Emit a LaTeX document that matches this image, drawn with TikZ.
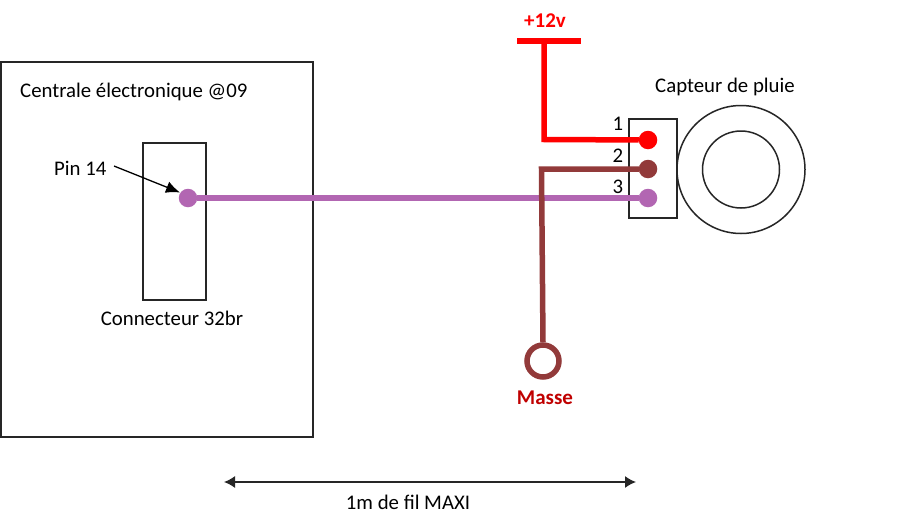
\documentclass[tikz,border=0pt]{standalone}
\usepackage{fontspec}
\setmainfont{Carlito}
\usetikzlibrary{arrows.meta}
\definecolor{wirered}{RGB}{255,0,0}
\definecolor{wirebrown}{RGB}{146,58,58}
\definecolor{wirepurple}{RGB}{178,102,178}
\definecolor{massered}{RGB}{192,0,0}
\tikzset{
  x=1pt,y=-1pt,
  outline/.style={draw=black!85,line width=1.5pt,fill=none,outer sep=0pt},
  lbl/.style={inner sep=0pt,font=\fontsize{20.8}{24}\selectfont,text=black},
  blbl/.style={inner sep=0pt,font=\fontsize{21}{24}\selectfont\bfseries},
  wire/.style={line width=5.5pt},
  dot/.style={circle,minimum size=18.5pt,inner sep=0pt,fill=#1,draw=none,outer sep=0pt},
  dimline/.style={draw=black!85,line width=1.5pt,{Latex[length=11pt,width=12pt]}-{Latex[length=11pt,width=12pt]}},
}
\begin{document}
\begin{tikzpicture}
\useasboundingbox (0,0) rectangle (903,525);
\fill[white] (0,0) rectangle (903,525);
\node[outline,minimum width=312pt,minimum height=375pt,inner sep=0pt,anchor=north west] (central) at (1,62) {};
\node[outline,minimum width=63pt,minimum height=157pt,inner sep=0pt,anchor=north west] (conn) at (143,143) {};
\node[outline,minimum width=48pt,minimum height=99pt,inner sep=0pt,anchor=north west] (box) at (629,119) {};
\node[outline,circle,minimum size=128pt,inner sep=0pt] (ringo) at (741,169.5) {};
\node[outline,circle,minimum size=77pt,inner sep=0pt] (ringi) at (741,169.5) {};
\node[lbl,anchor=west] (tc) at (20,92) {Centrale électronique @09};
\node[lbl,anchor=west] (tp) at (54,168) {Pin 14};
\node[lbl,anchor=center] (tk) at (172,318) {Connecteur 32br};
\node[lbl,anchor=center] (ts) at (725,87) {Capteur de pluie};
\node[lbl,anchor=center] (t1) at (618,124) {1};
\node[lbl,anchor=center] (t2) at (618,156) {2};
\node[lbl,anchor=center] (t3) at (618,187) {3};
\node[lbl,anchor=center] (tm) at (408,502) {1m de fil MAXI};
\node[blbl,text=wirered,anchor=center] (t12) at (545,21) {+12v};
\node[blbl,text=massered,anchor=center] (tmasse) at (545,398) {Masse};
\node[dot=wirepurple] (pl) at (188,198) {};
\node[dot=wirepurple] (p3) at (648,198) {};
\node[dot=wirebrown] (p2) at (648,169) {};
\node[dot=wirered] (p1) at (648,140) {};
\coordinate (tl) at (517,41);
\coordinate (tr) at (581,41);
\coordinate (tm0) at (544,41);
\coordinate (bc) at (541.5,169);
\node[circle,draw=wirebrown,line width=5.5pt,minimum size=32pt,inner sep=0pt] (gnd) at (543,361) {};
\draw[wire,wirepurple] (pl) -- (p3);
\draw[wire,wirered] (tl) -- (tr);
\draw[wire,wirered,line join=miter] (tm0) -- (544,139.5) -- (p1);
\draw[wire,wirebrown,line join=miter] (p2) -- (bc) -- (gnd.north);
\coordinate (as) at (114,166);
\coordinate (ae) at (180,192.5);
\draw[draw=black,line width=1.3pt,-{Latex[length=14pt,width=12pt]}] (as) -- (ae);
\coordinate (dl) at (224,482);
\coordinate (dr) at (636,482);
\draw[dimline] (dl) -- (dr);
\end{tikzpicture}
\end{document}
